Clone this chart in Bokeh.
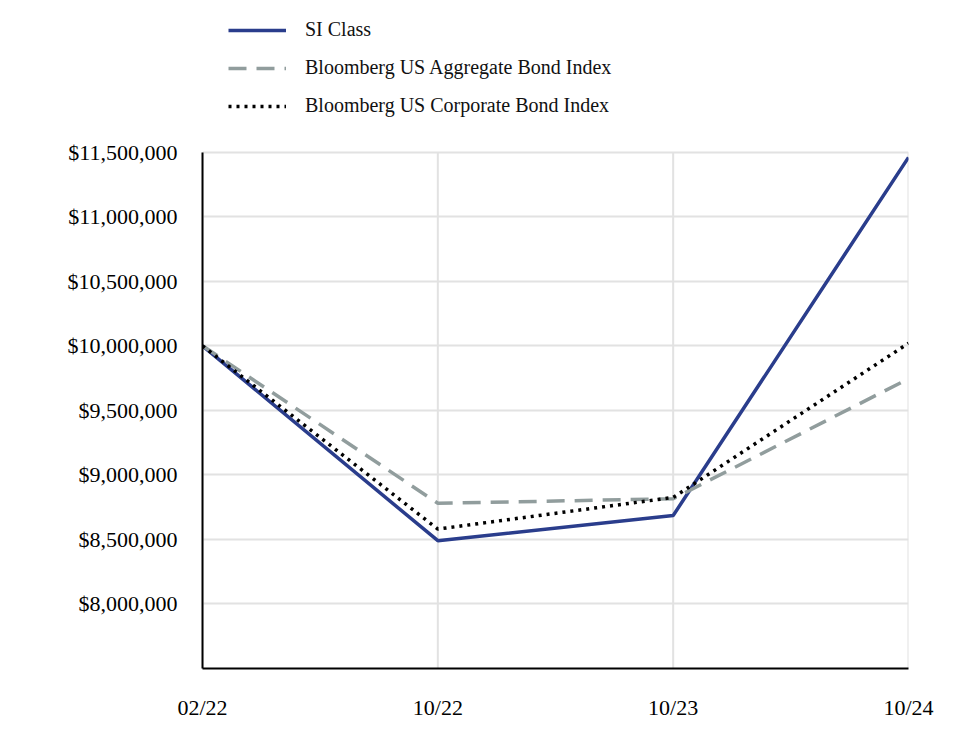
from bokeh.plotting import figure
from bokeh.models import (Range1d, FixedTicker, NumeralTickFormatter, Legend, LegendItem)
from bokeh.embed import file_html
from bokeh.resources import INLINE

dates = ["02/22", "10/22", "10/23", "10/24"]
si_class = [10000000, 8490000, 8685000, 11460000]
agg_index = [10000000, 8780000, 8815000, 9745000]
corp_index = [10000000, 8580000, 8825000, 10020000]
y_ticks = [8000000, 8500000, 9000000, 9500000, 10000000, 10500000, 11000000, 11500000]
y_min, y_max = 7500000, 11500000

x = list(range(len(dates)))
FONT = "Liberation Serif"

p = figure(width=948, height=724, output_backend="svg", toolbar_location=None,
           x_range=Range1d(0, len(dates) - 1), y_range=Range1d(y_min, 12590000),
           min_border_left=202, min_border_right=40, min_border_top=11, min_border_bottom=56)
p.outline_line_color = None

# vertical grid lines limited to the value axis extent
p.segment(x0=x, y0=[y_min] * len(x), x1=x, y1=[y_max] * len(x),
          line_color="#e2e2e2", line_width=2, level="underlay")
p.xgrid.visible = False

r1 = p.line(x, si_class, line_color="#2a3d8c", line_width=3.5)
r2 = p.line(x, agg_index, line_color="#919d9d", line_width=3.5, line_dash="18 10")
r3 = p.line(x, corp_index, line_color="#000000", line_width=3.5, line_dash="3 5")

p.xaxis.ticker = FixedTicker(ticks=x)
p.xaxis.major_label_overrides = {i: d for i, d in enumerate(dates)}
p.yaxis.ticker = FixedTicker(ticks=y_ticks)
p.yaxis.formatter = NumeralTickFormatter(format="$0,0")
p.yaxis.bounds = (y_min, y_max)

for ax in (p.xaxis[0], p.yaxis[0]):
    ax.axis_line_color = "#000000"
    ax.axis_line_width = 2
    ax.major_tick_line_color = None
    ax.minor_tick_line_color = None
    ax.major_label_text_font = FONT
    ax.major_label_text_font_size = "22px"
    ax.major_label_text_color = "#000000"
p.xaxis.major_label_standoff = 20
p.yaxis.major_label_standoff = 19

p.ygrid.ticker = FixedTicker(ticks=y_ticks)
p.ygrid.grid_line_color = "#e2e2e2"
p.ygrid.grid_line_width = 2

legend = Legend(items=[
    LegendItem(label="SI Class", renderers=[r1]),
    LegendItem(label="Bloomberg US Aggregate Bond Index", renderers=[r2]),
    LegendItem(label="Bloomberg US Corporate Bond Index", renderers=[r3]),
], location=(26, 551), orientation="vertical", border_line_color=None,
   background_fill_alpha=0, label_text_font=FONT, label_text_font_size="20px",
   label_text_color="#111111",
   glyph_width=58, glyph_height=20, label_height=20, label_standoff=19,
   spacing=15, padding=0, margin=0)
p.add_layout(legend)

open("out.html", "w").write(file_html(p, INLINE))
